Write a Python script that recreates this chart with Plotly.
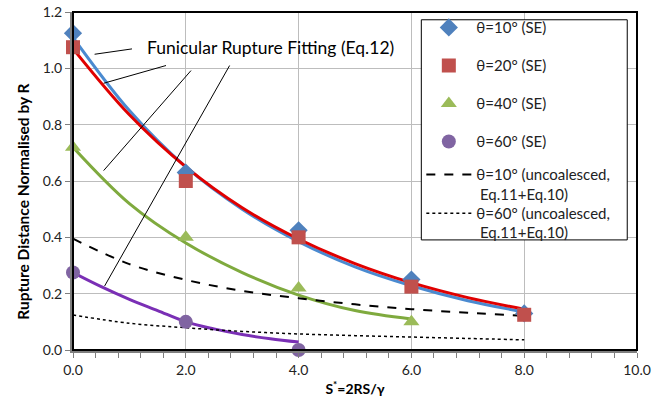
import plotly.graph_objects as go

# Measured rupture distances (Surface Evolver), normalised by R
s_se = [0.0, 2.0, 4.0, 6.0, 8.0]
se_10 = [1.125, 0.63, 0.425, 0.25, 0.13]
se_20 = [1.075, 0.60, 0.40, 0.225, 0.125]
s_se40 = [0.0, 2.0, 4.0, 6.0]
se_40 = [0.72, 0.40, 0.22, 0.10]
s_se60 = [0.0, 2.0, 4.0]
se_60 = [0.275, 0.10, 0.0]

# Funicular rupture fitting curves (Eq.12)
s_fit = [0, 1, 2, 3, 4, 5, 6, 7, 8]
fit_10 = [1.11, 0.85, 0.65, 0.50, 0.385, 0.295, 0.228, 0.175, 0.135]
fit_20 = [1.07, 0.835, 0.65, 0.505, 0.394, 0.307, 0.239, 0.186, 0.145]
s_fit40 = [0, 1, 2, 3, 4, 5, 6]
fit_40 = [0.72, 0.52, 0.38, 0.275, 0.195, 0.14, 0.11]
s_fit60 = [0, 0.5, 1, 1.5, 2, 2.5, 3, 3.5, 4]
fit_60 = [0.275, 0.225, 0.18, 0.14, 0.10, 0.075, 0.055, 0.04, 0.028]

# Uncoalesced model (Eq.11+Eq.10)
s_unc = [0, 1, 2, 3, 4, 5, 6, 7, 8]
unc_10 = [0.395, 0.305, 0.249, 0.21, 0.184, 0.162, 0.145, 0.132, 0.121]
unc_60 = [0.124, 0.095, 0.079, 0.066, 0.057, 0.051, 0.046, 0.041, 0.036]

FONT = "Lato"
LEG_FONT = dict(family=FONT, size=15, color="#222")

fig = go.Figure()

# fitted curves (not in legend)
fits = [
    (s_fit, fit_10, "#4A8AD0"),
    (s_fit, fit_20, "#E00000"),
    (s_fit40, fit_40, "#7FAA3E"),
    (s_fit60, fit_60, "#7A2FB5"),
]
for xs, ys, c in fits:
    fig.add_trace(go.Scatter(x=xs, y=ys, mode="lines", line=dict(color=c, width=3, shape="spline"),
                             showlegend=False, hoverinfo="skip"))

# uncoalesced curves (listed in a second legend block)
fig.add_trace(go.Scatter(x=s_unc, y=unc_10, mode="lines", name="θ=10° (uncoalesced,",
                         line=dict(color="black", width=2, dash="dash", shape="spline"),
                         legend="legend2", legendgroup="g5", legendrank=5))
fig.add_trace(go.Scatter(x=s_unc, y=unc_60, mode="lines", name="θ=60° (uncoalesced,",
                         line=dict(color="black", width=1.5, dash="dot", shape="spline"),
                         legend="legend2", legendgroup="g6", legendrank=6))

# measured markers
markers = [
    (s_se, se_10, "θ=10° (SE)", "diamond", "#4F81BD", 14, 1),
    (s_se, se_20, "θ=20° (SE)", "square", "#C0504D", 14, 2),
    (s_se40, se_40, "θ=40° (SE)", "triangle-up", "#9BBB59", 14, 3),
    (s_se60, se_60, "θ=60° (SE)", "circle", "#8064A2", 14, 4),
]
for xs, ys, name, sym, c, sz, rk in markers:
    fig.add_trace(go.Scatter(x=xs, y=ys, mode="markers", name=name,
                             marker=dict(symbol=sym, color=c, size=sz, line=dict(width=0)),
                             cliponaxis=False, legendgroup="g%d" % rk, legendrank=rk))

# legend panel: white box with a thin black border behind both legend blocks
fig.add_shape(type="rect", x0=0.6176, x1=0.9827, y0=0.3257, y1=0.977, xref="paper", yref="paper",
              fillcolor="white", line=dict(color="black", width=1), layer="above")

# second line of the two uncoalesced legend entries
for yy in (0.4621, 0.3496):
    fig.add_annotation(x=0.7186, y=yy, xref="paper", yref="paper", xanchor="left", yanchor="middle",
                       text="Eq.11+Eq.10)", showarrow=False, font=LEG_FONT)

# leader lines from the fitting label to each curve
leaders = [
    ((1.046, 1.069), (0.383, 1.050)),
    ((1.649, 1.010), (0.543, 0.947)),
    ((2.092, 0.992), (0.543, 0.637)),
    ((2.777, 1.010), (0.560, 0.227)),
]
for (x0, y0), (x1, y1) in leaders:
    fig.add_shape(type="line", x0=x0, y0=y0, x1=x1, y1=y1, xref="x", yref="y",
                  line=dict(color="black", width=1))

fig.add_annotation(x=1.28, y=1.073, xref="x", yref="y", xanchor="left", yanchor="middle",
                   text="Funicular Rupture Fitting (Eq.12)", showarrow=False,
                   font=dict(family=FONT, size=17.5, color="black"))

# y-axis title
fig.add_annotation(x=-0.088, y=0.44, xref="paper", yref="paper", xanchor="center", yanchor="middle",
                   text="<b>Rupture Distance Normalised by R</b>", textangle=-90, showarrow=False,
                   font=dict(family=FONT, size=15.5, color="black"))

# frame: black top/right border
fig.add_shape(type="rect", x0=0, x1=1, y0=0, y1=1, xref="paper", yref="paper",
              line=dict(color="black", width=2), layer="above")

legend_common = dict(xanchor="left", yanchor="top", bgcolor="rgba(0,0,0,0)", borderwidth=0,
                     font=LEG_FONT, traceorder="grouped", itemwidth=45)
fig.update_layout(
    width=669, height=403,
    margin=dict(l=73, r=32, t=12, b=53, autoexpand=False),
    paper_bgcolor="white", plot_bgcolor="white",
    font=dict(family=FONT, size=14, color="#222"),
    showlegend=True,
    legend=dict(x=0.6176, y=1.0023, tracegroupgap=15.5, **legend_common),
    legend2=dict(x=0.6176, y=0.567, tracegroupgap=16.2, **legend_common),
)
fig.update_xaxes(range=[0, 10], dtick=2, tickformat=".1f", showgrid=True, gridcolor="#BDBDBD",
                 gridwidth=1, zeroline=False, showline=True, linecolor="#7F7F7F", linewidth=3,
                 ticks="outside", ticklen=5, tickcolor="#7F7F7F", tickwidth=1, automargin=False,
                 minor=dict(dtick=0.4, ticks="outside", ticklen=5, tickcolor="#7F7F7F", showgrid=False),
                 title=dict(text="<b>S<sup>*</sup>=2RS/γ</b>", font=dict(family=FONT, size=14, color="black"),
                            standoff=8))
fig.update_yaxes(range=[0, 1.2], dtick=0.2, tickformat=".1f", showgrid=True, gridcolor="#BDBDBD",
                 gridwidth=1, zeroline=False, showline=True, linecolor="#7F7F7F", linewidth=3,
                 ticks="outside", ticklen=5, tickcolor="#7F7F7F", tickwidth=1, automargin=False)

fig.write_html("out.html")
